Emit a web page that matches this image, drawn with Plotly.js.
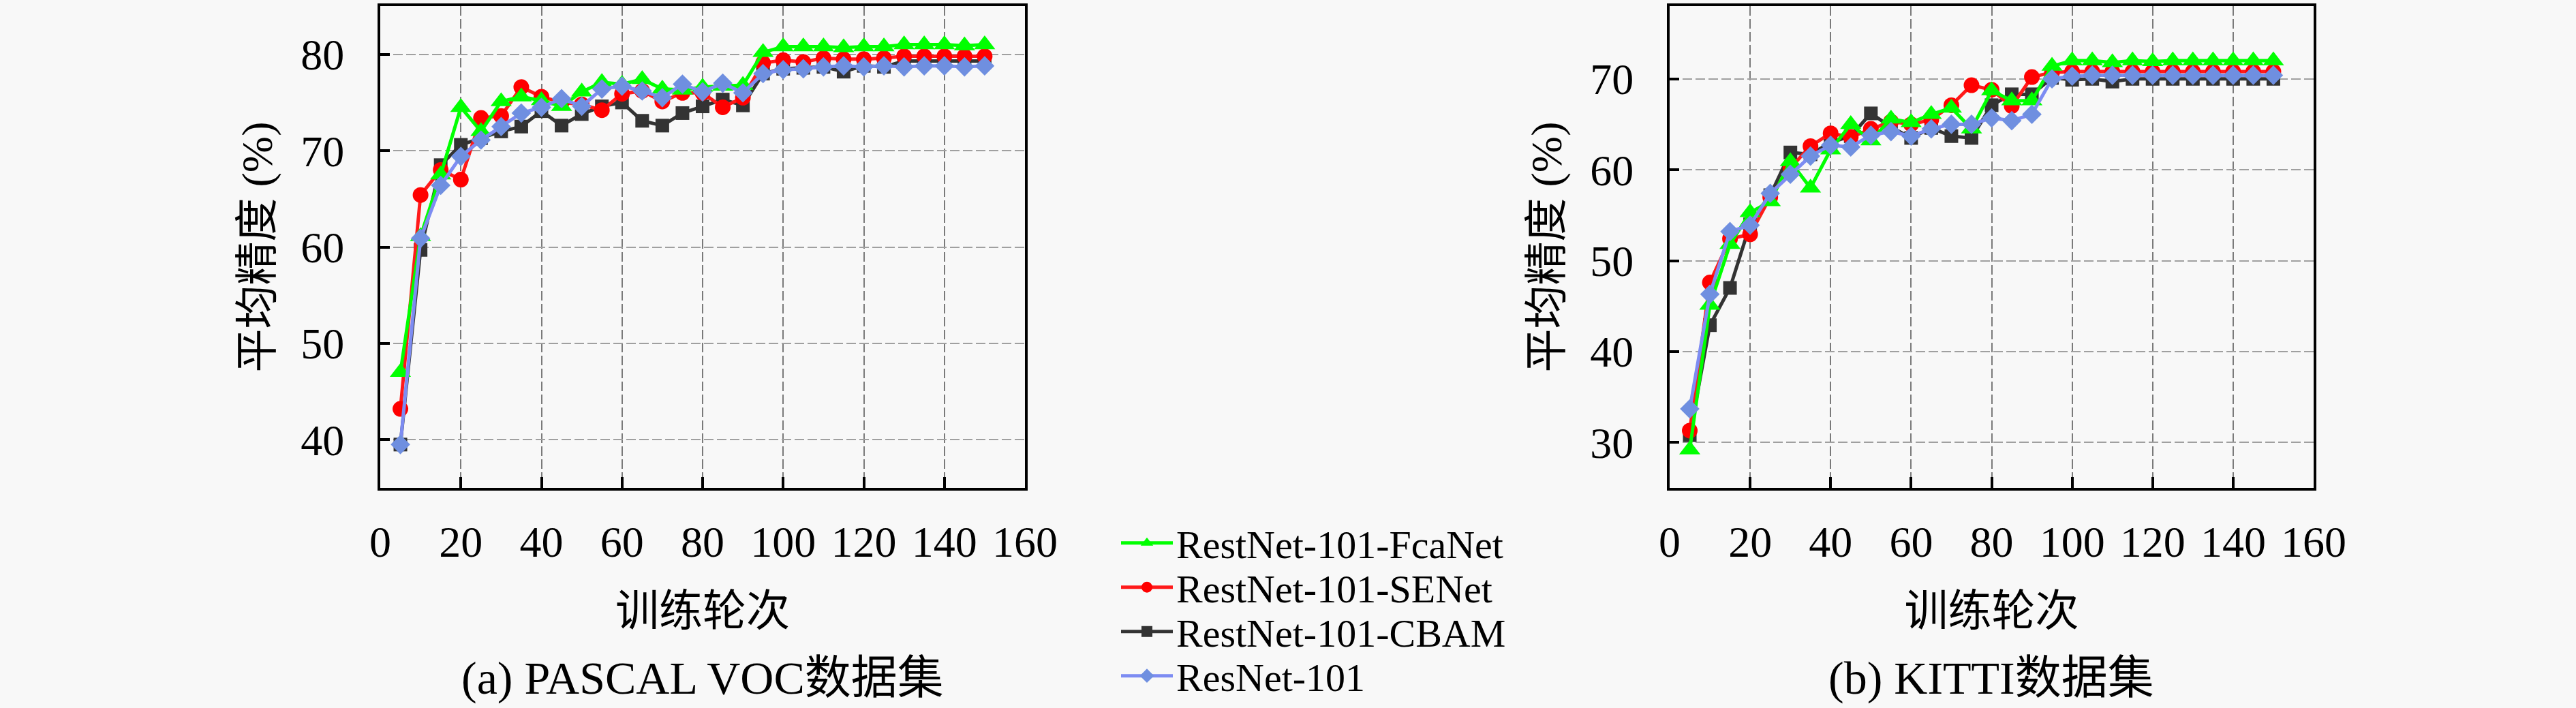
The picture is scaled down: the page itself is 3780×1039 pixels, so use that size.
<!DOCTYPE html>
<html>
<head>
<meta charset="utf-8">
<script src="https://cdn.plot.ly/plotly-3.0.1.min.js"></script>
<style>
  html, body { margin: 0; padding: 0; background: #f8f8f8; }
  #chart { width: 3780px; height: 1039px; }
</style>
</head>
<body>
<div id="chart"></div>
<script>
// Epochs (x values)
const epochs = [5,10,15,20,25,30,35,40,45,50,55,60,65,70,75,80,85,90,95,100,105,110,115,120,125,130,135,140,145,150];

// Series names
const seriesNames = ['RestNet-101-FcaNet', 'RestNet-101-SENet', 'RestNet-101-CBAM', 'ResNet-101'];

// (a) PASCAL VOC — mean precision (%)
const vocFcaNet = [47.0,61.1,67.5,74.5,72.0,75.1,75.6,75.2,74.6,76.1,77.1,76.9,77.4,76.4,76.3,76.6,76.7,76.8,80.2,80.8,80.8,80.8,80.7,80.8,80.8,81.0,81.0,81.0,80.9,81.0];
const vocSENet  = [43.2,65.4,68.0,67.0,73.4,73.6,76.6,75.6,75.0,74.8,74.2,75.9,76.2,75.1,76.0,76.0,74.5,75.5,79.1,79.4,79.2,79.6,79.5,79.5,79.6,79.8,79.8,79.8,79.8,79.8];
const vocCBAM   = [39.5,59.7,68.5,70.6,71.3,72.0,72.5,74.1,72.6,73.8,74.6,75.0,73.1,72.6,73.9,74.6,75.3,74.7,78.0,78.5,78.6,78.7,78.2,78.8,78.7,79.3,79.3,79.3,79.3,79.3];
const vocResNet = [39.5,60.9,66.4,69.4,71.1,72.5,73.9,74.5,75.4,74.6,76.4,76.7,76.2,75.5,76.9,76.1,77.0,76.0,78.0,78.4,78.5,78.7,78.8,78.7,78.8,78.7,78.8,78.8,78.7,78.8];

// (b) KITTI — mean precision (%)
const kittiFcaNet = [29.2,45.1,51.8,55.3,56.5,60.9,58.0,62.2,65.0,63.2,65.6,65.2,66.1,66.8,64.5,68.7,67.6,67.6,71.4,72.0,72.0,71.8,72.0,71.9,72.0,72.0,72.0,72.0,72.0,72.0];
const kittiSENet  = [31.3,47.6,52.4,52.9,57.0,60.2,62.6,64.0,63.6,64.5,65.3,65.0,65.5,67.1,69.3,68.8,67.0,70.2,70.7,70.8,70.8,70.8,70.8,70.8,70.8,70.8,70.8,70.8,70.8,70.8];
const kittiCBAM   = [30.8,42.9,47.0,54.0,57.2,61.9,61.7,63.0,63.7,66.2,64.7,63.5,64.6,63.7,63.5,67.1,68.3,68.3,70.1,69.9,70.0,69.7,70.0,70.0,70.0,70.0,70.0,70.0,70.0,70.0];
const kittiResNet = [33.7,46.3,53.2,53.9,57.4,59.5,61.5,62.7,62.5,63.8,64.2,63.7,64.5,65.0,65.0,65.7,65.4,66.1,70.0,70.3,70.4,70.4,70.4,70.4,70.4,70.4,70.4,70.4,70.4,70.4];

// Tick labels
const xTicks = [0,20,40,60,80,100,120,140,160];
const vocYTicks = [40,50,60,70,80];
const kittiYTicks = [30,40,50,60,70];

// Text
const yTitle = '平均精度 (%)';
const xTitle = '训练轮次';
const captionA = '(a) PASCAL VOC数据集';
const captionB = '(b) KITTI数据集';

const FONT = 'Liberation Serif, "Noto Sans CJK SC", serif';
const FS = 64;

const styles = [
  {line: '#00ff00', marker: '#00ff00', symbol: 'triangle-up', size: 27},
  {line: '#ff1a1a', marker: '#ff0000', symbol: 'circle', size: 23},
  {line: '#333333', marker: '#333333', symbol: 'square', size: 20},
  {line: '#7d8cf2', marker: '#6f8fe0', symbol: 'diamond', size: 22}
];

const vocData = [vocFcaNet, vocSENet, vocCBAM, vocResNet];
const kittiData = [kittiFcaNet, kittiSENet, kittiCBAM, kittiResNet];
const legendIds = ['legend', 'legend2', 'legend3', 'legend4'];
const drawOrder = [2, 1, 0, 3];

const traces = [];
drawOrder.forEach(i => {
  traces.push({
    x: epochs, y: vocData[i], xaxis: 'x', yaxis: 'y',
    type: 'scatter', mode: 'lines+markers', name: seriesNames[i],
    legend: legendIds[i], showlegend: true,
    line: {color: styles[i].line, width: 5},
    marker: {color: styles[i].marker, symbol: styles[i].symbol, size: styles[i].size}
  });
});
drawOrder.forEach(i => {
  traces.push({
    x: epochs, y: kittiData[i], xaxis: 'x2', yaxis: 'y2',
    type: 'scatter', mode: 'lines+markers', name: seriesNames[i],
    showlegend: false,
    line: {color: styles[i].line, width: 5},
    marker: {color: styles[i].marker, symbol: styles[i].symbol, size: styles[i].size}
  });
});

const W = 3780, H = 1039;
function px(xp) { return xp / W; }
function py(yp) { return 1 - yp / H; }

const xCommon = {
  range: [0, 160], tickvals: xTicks, ticktext: xTicks.map(String),
  showline: true, linecolor: '#000', linewidth: 4, mirror: true,
  ticks: 'inside', ticklen: 16, tickwidth: 4, tickcolor: '#000',
  showgrid: true, gridcolor: '#7a7a7a', gridwidth: 2, griddash: '14px,5px',
  zeroline: false, ticklabelstandoff: 20,
  tickfont: {family: FONT, size: FS, color: '#000'},
  title: {text: xTitle, standoff: 44, font: {family: FONT, size: FS, color: '#000'}}
};
const yCommon = {
  showline: true, linecolor: '#000', linewidth: 4, mirror: true,
  ticks: 'inside', ticklen: 14, tickwidth: 4, tickcolor: '#000',
  showgrid: true, gridcolor: '#a0a0a0', gridwidth: 2, griddash: '14px,5px',
  zeroline: false, ticklabelstandoff: 36,
  tickfont: {family: FONT, size: FS, color: '#000'},
  title: {text: yTitle, standoff: 22, font: {family: FONT, size: FS, color: '#000'}}
};

const legendRows = [797, 862, 927, 992];
const legendCommon = {
  xanchor: 'left', yanchor: 'middle', x: px(1640),
  bgcolor: 'rgba(0,0,0,0)', borderwidth: 0, itemwidth: 76,
  font: {family: FONT, size: 58, color: '#000'}
};

const layout = {
  width: W, height: H,
  paper_bgcolor: '#f8f8f8', plot_bgcolor: '#f8f8f8',
  margin: {l: 0, r: 0, t: 0, b: 0},
  xaxis: Object.assign({}, xCommon, {domain: [px(558), px(1504)], anchor: 'y'}),
  yaxis: Object.assign({}, yCommon, {domain: [py(716), py(9)], anchor: 'x', range: [35, 85], tickvals: vocYTicks}),
  xaxis2: Object.assign({}, xCommon, {domain: [px(2450), px(3395)], anchor: 'y2'}),
  yaxis2: Object.assign({}, yCommon, {domain: [py(716), py(9)], anchor: 'x2', range: [25, 78], tickvals: kittiYTicks}),
  legend: Object.assign({}, legendCommon, {y: py(legendRows[0])}),
  legend2: Object.assign({}, legendCommon, {y: py(legendRows[1])}),
  legend3: Object.assign({}, legendCommon, {y: py(legendRows[2])}),
  legend4: Object.assign({}, legendCommon, {y: py(legendRows[3])}),
  annotations: [
    {text: captionA, xref: 'paper', yref: 'paper', x: px(1031), y: py(995), xanchor: 'center', yanchor: 'middle',
     showarrow: false, font: {family: FONT, size: FS + 4, color: '#000'}},
    {text: captionB, xref: 'paper', yref: 'paper', x: px(2922), y: py(995), xanchor: 'center', yanchor: 'middle',
     showarrow: false, font: {family: FONT, size: FS + 4, color: '#000'}}
  ]
};

Plotly.newPlot('chart', traces, layout, {staticPlot: true, displayModeBar: false});
</script>
</body>
</html>
